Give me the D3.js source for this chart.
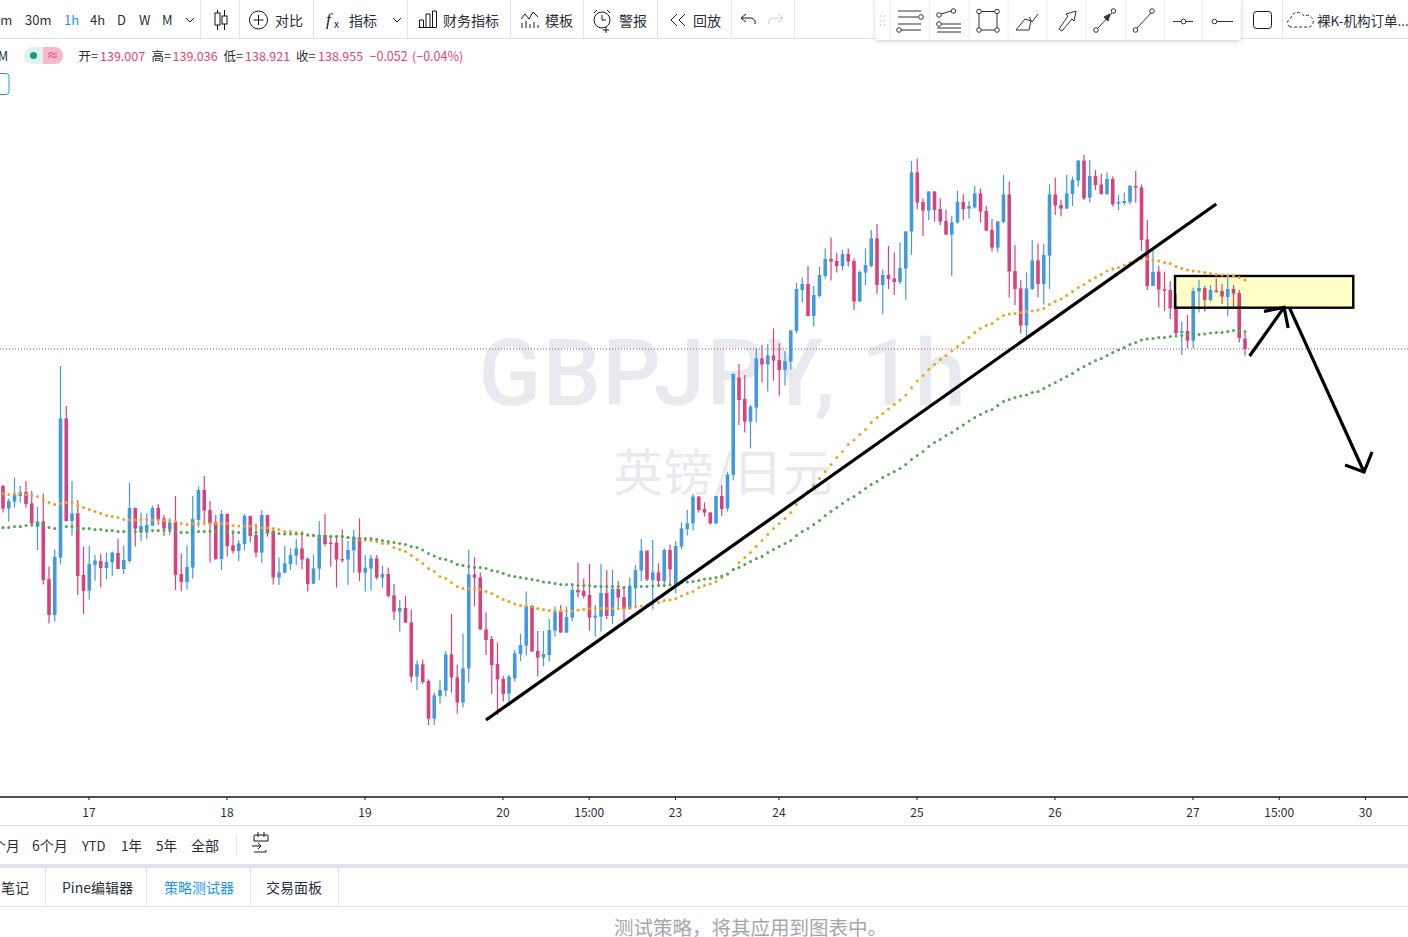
<!DOCTYPE html>
<html><head><meta charset="utf-8">
<script src="https://cdn.jsdelivr.net/npm/d3@7"></script>
<style>html,body{margin:0;padding:0;background:#fff;overflow:hidden}svg{display:block}text{font-family:"Noto Sans CJK SC","Noto Sans",sans-serif}</style>
</head><body><svg id="c" width="1408" height="937"></svg>
<script>
const opens=[138.270,138.157,138.192,138.220,138.240,138.183,138.067,138.093,137.805,137.625,
137.912,138.608,138.095,138.133,137.825,137.747,137.875,137.895,137.860,137.888,
137.935,137.855,137.895,138.160,138.040,138.042,138.072,138.160,138.108,138.053,
138.093,137.830,137.790,137.862,138.100,138.250,138.150,138.090,137.905,138.130,
137.973,137.945,137.980,138.120,138.025,137.937,138.125,138.045,137.812,137.837,
137.880,137.922,137.958,137.905,137.782,137.857,138.025,137.987,137.987,137.905,
137.902,137.948,138.013,137.837,137.857,137.908,137.812,137.830,137.723,137.642,
137.660,137.588,137.317,137.378,137.295,137.107,137.220,137.247,137.428,137.313,
137.187,137.358,137.828,137.813,137.553,137.505,137.380,137.305,137.233,137.308,
137.430,137.472,137.670,137.445,137.412,137.425,137.547,137.645,137.537,137.612,
137.750,137.745,137.725,137.612,137.617,137.735,137.620,137.755,137.715,137.655,
137.758,137.847,137.947,137.800,137.838,137.795,137.950,137.775,137.967,138.055,
138.083,138.217,138.155,138.138,138.083,138.220,138.158,138.325,138.812,138.705,
138.592,138.662,138.908,138.878,138.923,138.900,138.850,138.892,139.045,139.250,
139.280,139.120,139.220,139.320,139.405,139.395,139.370,139.430,139.395,139.192,
139.337,139.370,139.508,139.275,139.325,139.308,139.290,139.357,139.542,139.838,
139.690,139.647,139.743,139.655,139.595,139.527,139.587,139.690,139.657,139.663,
139.733,139.645,139.550,139.462,139.590,139.728,139.345,139.258,139.072,139.255,
139.398,139.280,139.422,139.728,139.675,139.657,139.730,139.797,139.897,139.712,
139.820,139.778,139.730,139.805,139.682,139.685,139.690,139.770,139.763,139.503,
139.270,139.342,139.255,139.250,139.170,139.037,139.045,138.997,139.243,139.260,
139.200,139.247,139.245,139.215,139.255,139.235,139.007];
const closes=[138.157,138.195,138.228,138.240,138.180,138.083,138.093,137.800,137.625,137.915,
138.608,138.095,138.133,137.820,137.745,137.880,137.897,137.860,137.890,137.937,
137.855,137.900,138.160,138.057,138.070,138.075,138.160,138.103,138.057,138.088,
137.825,137.790,137.865,138.105,138.250,138.147,138.083,137.905,138.130,137.970,
137.945,137.983,138.120,138.020,137.937,138.125,138.033,137.812,137.838,137.883,
137.925,137.958,137.902,137.780,137.858,138.025,137.980,137.980,137.902,137.898,
137.950,138.017,137.837,137.862,137.908,137.812,137.830,137.720,137.642,137.660,
137.587,137.317,137.378,137.290,137.107,137.223,137.250,137.428,137.312,137.187,
137.358,137.828,137.812,137.553,137.500,137.375,137.303,137.230,137.317,137.433,
137.475,137.670,137.442,137.412,137.430,137.550,137.642,137.537,137.615,137.750,
137.738,137.720,137.612,137.622,137.735,137.620,137.755,137.712,137.655,137.767,
137.850,137.947,137.803,137.838,137.795,137.950,137.853,137.970,138.058,138.083,
138.217,138.150,138.137,138.083,138.220,138.155,138.328,138.830,138.700,138.592,
138.667,138.908,138.878,138.923,138.897,138.850,138.895,139.048,139.255,139.280,
139.120,139.225,139.325,139.405,139.392,139.370,139.430,139.392,139.192,139.340,
139.375,139.508,139.275,139.325,139.305,139.290,139.360,139.543,139.838,139.687,
139.647,139.743,139.650,139.592,139.527,139.588,139.690,139.655,139.670,139.733,
139.642,139.547,139.462,139.593,139.728,139.342,139.255,139.072,139.258,139.398,
139.280,139.425,139.728,139.672,139.657,139.733,139.800,139.897,139.708,139.820,
139.775,139.730,139.805,139.678,139.690,139.695,139.770,139.762,139.500,139.270,
139.340,139.252,139.247,139.158,139.033,139.045,138.997,139.245,139.260,139.200,
139.250,139.240,139.217,139.255,139.232,139.010,138.955];
const highs=[138.275,138.208,138.312,138.270,138.295,138.245,138.167,138.233,137.867,137.953,
138.870,138.670,138.295,138.200,137.967,137.970,137.925,137.930,137.937,137.942,
138.008,137.972,138.287,138.163,138.138,138.133,138.172,138.180,138.125,138.108,
138.220,137.933,137.972,138.220,138.267,138.320,138.195,138.125,138.150,138.133,
138.050,138.000,138.130,138.122,138.083,138.150,138.125,138.063,137.913,137.970,
137.958,138.005,138.033,137.913,137.928,138.095,138.130,138.022,138.022,138.053,
137.995,138.050,138.108,137.925,137.925,137.925,137.870,137.863,137.780,137.700,
137.720,137.653,137.397,137.403,137.303,137.237,137.297,137.445,137.630,137.378,
137.533,137.950,137.913,137.837,137.637,137.520,137.487,137.320,137.325,137.450,
137.530,137.742,137.675,137.545,137.545,137.605,137.667,137.675,137.667,137.775,
137.887,137.808,137.880,137.675,137.880,137.850,137.850,137.795,137.767,137.813,
137.875,138.005,137.947,138.000,137.883,137.958,137.978,137.995,138.088,138.150,
138.230,138.220,138.188,138.138,138.220,138.275,138.342,138.833,138.880,138.825,
138.675,138.958,138.975,138.980,139.058,138.983,138.945,139.048,139.287,139.312,
139.370,139.270,139.367,139.458,139.513,139.438,139.450,139.458,139.408,139.347,
139.458,139.550,139.580,139.353,139.470,139.438,139.487,139.543,139.895,139.908,
139.708,139.743,139.743,139.708,139.653,139.620,139.747,139.730,139.695,139.770,
139.758,139.670,139.605,139.593,139.825,139.792,139.475,139.300,139.338,139.500,
139.483,139.480,139.778,139.813,139.700,139.825,139.817,139.900,139.925,139.900,
139.850,139.830,139.838,139.817,139.725,139.738,139.775,139.845,139.778,139.600,
139.458,139.370,139.342,139.295,139.230,139.092,139.125,139.263,139.300,139.270,
139.275,139.308,139.280,139.312,139.275,139.250,139.036];
const lows=[138.137,138.092,138.162,138.187,138.162,138.067,137.950,137.778,137.583,137.592,
137.878,138.092,138.022,137.725,137.630,137.703,137.797,137.762,137.805,137.820,
137.855,137.830,137.887,137.967,137.995,138.005,138.070,138.075,138.020,138.022,
137.750,137.742,137.753,137.808,138.063,138.083,137.887,137.900,137.850,137.917,
137.933,137.895,137.950,137.987,137.912,137.887,138.017,137.778,137.775,137.833,
137.850,137.875,137.853,137.742,137.780,137.800,137.970,137.867,137.762,137.887,
137.775,137.837,137.795,137.742,137.747,137.803,137.762,137.712,137.600,137.542,
137.587,137.287,137.250,137.280,137.075,137.075,137.183,137.217,137.237,137.133,
137.163,137.287,137.670,137.550,137.425,137.230,137.125,137.192,137.167,137.292,
137.395,137.422,137.442,137.317,137.370,137.392,137.517,137.537,137.537,137.592,
137.712,137.708,137.547,137.517,137.542,137.605,137.580,137.663,137.592,137.650,
137.658,137.795,137.795,137.653,137.775,137.772,137.770,137.733,137.953,138.022,
138.047,138.138,138.117,138.077,138.080,138.120,138.142,138.297,138.575,138.537,
138.458,138.587,138.787,138.742,138.797,138.722,138.772,138.853,139.032,139.187,
139.117,139.067,139.213,139.308,139.297,139.337,139.347,139.367,139.150,139.190,
139.275,139.363,139.230,139.130,139.255,139.225,139.280,139.200,139.425,139.655,
139.520,139.600,139.592,139.575,139.525,139.320,139.583,139.600,139.608,139.658,
139.587,139.545,139.442,139.437,139.583,139.212,139.175,139.033,139.008,139.250,
139.212,139.178,139.255,139.625,139.617,139.655,139.670,139.767,139.700,139.688,
139.750,139.728,139.725,139.667,139.650,139.675,139.678,139.688,139.445,139.250,
139.270,139.162,139.145,139.105,139.022,138.925,138.958,138.958,139.137,139.142,
139.192,139.237,139.180,139.120,139.163,138.987,138.921];
const fastMA=[138.233,138.228,138.230,138.232,138.228,138.222,138.218,138.203,138.188,138.178,
138.183,138.187,138.188,138.173,138.163,138.153,138.143,138.133,138.123,138.118,
138.113,138.103,138.100,138.100,138.103,138.103,138.100,138.100,138.097,138.097,
138.093,138.083,138.078,138.083,138.083,138.083,138.083,138.083,138.083,138.083,
138.072,138.070,138.070,138.070,138.067,138.063,138.060,138.057,138.053,138.043,
138.042,138.038,138.037,138.025,138.022,138.017,138.017,138.018,138.018,138.017,
138.012,138.005,138.002,138.000,137.998,137.992,137.983,137.982,137.963,137.953,
137.943,137.923,137.903,137.883,137.858,137.842,137.817,137.807,137.787,137.767,
137.758,137.758,137.758,137.753,137.743,137.733,137.718,137.703,137.692,137.680,
137.673,137.670,137.667,137.658,137.653,137.648,137.647,137.645,137.645,137.645,
137.650,137.653,137.657,137.657,137.658,137.658,137.658,137.658,137.658,137.660,
137.667,137.670,137.675,137.683,137.688,137.697,137.700,137.708,137.720,137.733,
137.742,137.762,137.772,137.780,137.792,137.813,137.830,137.853,137.888,137.913,
137.938,137.968,137.998,138.028,138.058,138.083,138.108,138.138,138.178,138.215,
138.243,138.273,138.308,138.343,138.378,138.413,138.443,138.478,138.500,138.528,
138.553,138.588,138.612,138.633,138.655,138.678,138.700,138.725,138.763,138.795,
138.823,138.853,138.878,138.903,138.922,138.945,138.967,138.988,139.013,139.038,
139.058,139.072,139.083,139.105,139.122,139.130,139.133,139.138,139.142,139.145,
139.150,139.158,139.178,139.192,139.205,139.222,139.242,139.262,139.278,139.297,
139.313,139.328,139.345,139.355,139.363,139.375,139.388,139.397,139.405,139.405,
139.400,139.395,139.388,139.383,139.367,139.358,139.350,139.345,139.342,139.338,
139.332,139.328,139.325,139.322,139.320,139.313,139.300];
const slowMA=[138.063,138.063,138.068,138.068,138.073,138.075,138.075,138.075,138.063,138.058,
138.067,138.068,138.068,138.058,138.058,138.058,138.053,138.053,138.048,138.048,
138.043,138.043,138.043,138.043,138.042,138.043,138.048,138.048,138.048,138.048,
138.043,138.038,138.038,138.043,138.043,138.043,138.043,138.043,138.043,138.043,
138.038,138.038,138.038,138.038,138.038,138.038,138.037,138.035,138.033,138.030,
138.030,138.030,138.030,138.025,138.022,138.020,138.017,138.017,138.017,138.017,
138.012,138.008,138.008,138.007,138.007,138.003,137.998,137.993,137.988,137.983,
137.978,137.968,137.963,137.950,137.933,137.920,137.908,137.903,137.892,137.878,
137.873,137.868,137.863,137.862,137.858,137.848,137.843,137.833,137.823,137.817,
137.813,137.808,137.803,137.797,137.790,137.788,137.783,137.778,137.777,137.777,
137.773,137.773,137.772,137.768,137.768,137.768,137.768,137.768,137.763,137.767,
137.767,137.767,137.768,137.770,137.772,137.773,137.775,137.780,137.787,137.790,
137.793,137.798,137.805,137.808,137.812,137.820,137.830,137.853,137.863,137.877,
137.893,137.908,137.917,137.938,137.953,137.968,137.983,137.998,138.023,138.043,
138.058,138.078,138.098,138.123,138.143,138.163,138.183,138.203,138.218,138.238,
138.258,138.278,138.293,138.313,138.328,138.343,138.358,138.378,138.403,138.423,
138.443,138.468,138.488,138.503,138.523,138.538,138.558,138.575,138.595,138.613,
138.628,138.643,138.653,138.673,138.693,138.703,138.713,138.720,138.725,138.738,
138.743,138.758,138.773,138.788,138.803,138.818,138.833,138.853,138.868,138.883,
138.898,138.908,138.922,138.938,138.950,138.963,138.978,138.988,139.000,139.005,
139.008,139.012,139.013,139.017,139.020,139.023,139.025,139.027,139.028,139.030,
139.035,139.037,139.038,139.042,139.048,139.045,139.042];
const tickBars=[15,39,63,87,102,117,135,159,183,207,222,237];
const tickLabels=["17","18","19","20","15:00","23","24","25","26","27","15:00","30"];
const lastPrice=138.955;
// user drawings, as [bar, price]
const trendLine=[[84,137.1],[211,139.68]];
const boxZone=[[203.83,139.32],[234.83,139.1615]];
const arrowUp=[[216.8,138.92],[222.8,139.163]];
const arrowUpHead=[[219.3,139.143],[222.8,139.163],[223.5,139.06]];
const arrowDown=[[223.7,139.163],[236.7,138.34]];
const arrowDownHead=[[233.4,138.375],[236.7,138.34],[238.1,138.44]];

const BLUE="#4299e1",PINK="#d9417b",ORANGE="#f0a020",GREEN="#4ea556",TXT="#2a2e39",SEP="#e0e3eb";
const svg=d3.select("#c");
const x=d3.scaleLinear().domain([0,237]).range([3,1365.75]);
const y=d3.scaleLinear().domain([140.7,136.715]).range([0,797]);

// watermark
svg.append("text").attr("x",723).attr("y",405).attr("text-anchor","middle").attr("font-size",92).attr("font-weight",500).attr("fill","#e9eaef").style("font-family","Roboto,sans-serif").attr("letter-spacing",1.5).text("GBPJPY, 1h");
svg.append("text").attr("x",723).attr("y",491).attr("text-anchor","middle").attr("font-size",50).attr("fill","#e9eaef").text("英镑/日元");

// box fill
const bx=x(boxZone[0][0]),bw=x(boxZone[1][0])-bx,by=y(boxZone[0][1]),bh=y(boxZone[1][1])-by;
svg.append("rect").attr("x",bx).attr("y",by).attr("width",bw).attr("height",bh).attr("fill","#ffffc8");

// price line
svg.append("line").attr("x1",0).attr("x2",1408).attr("y1",y(lastPrice)).attr("y2",y(lastPrice)).attr("stroke","#b8406c").attr("stroke-dasharray","1 2");

// candles
const bars=d3.range(opens.length);
const g=svg.append("g");
g.selectAll("line.w").data(bars).join("line").attr("class","w")
 .attr("x1",i=>x(i)).attr("x2",i=>x(i)).attr("y1",i=>y(highs[i])).attr("y2",i=>y(lows[i]))
 .attr("stroke",i=>closes[i]>=opens[i]?BLUE:PINK).attr("stroke-width",1.2);
g.selectAll("rect.b").data(bars).join("rect").attr("class","b")
 .attr("x",i=>x(i)-1.8).attr("width",3.6)
 .attr("y",i=>y(Math.max(opens[i],closes[i])))
 .attr("height",i=>Math.max(1.5,Math.abs(y(opens[i])-y(closes[i]))))
 .attr("fill",i=>closes[i]>=opens[i]?BLUE:PINK);

// box stroke
svg.append("rect").attr("x",bx).attr("y",by).attr("width",bw).attr("height",bh).attr("fill","none").attr("stroke","#000").attr("stroke-width",2.4);

// MA dots
[[fastMA,ORANGE],[slowMA,GREEN]].forEach(([s,c])=>{
 svg.append("g").selectAll("circle").data(s).join("circle")
  .attr("cx",(d,i)=>x(i)).attr("cy",d=>y(d)).attr("r",1.5).attr("fill",c);
});

// drawings
const ln=d3.line().x(d=>x(d[0])).y(d=>y(d[1]));
[[trendLine,3.2],[arrowUp,3.2],[arrowUpHead,3.2],[arrowDown,3.2],[arrowDownHead,3.2]].forEach(([p,w])=>{
 svg.append("path").attr("d",ln(p)).attr("fill","none").attr("stroke","#000").attr("stroke-width",w);
});

// time axis
svg.append("rect").attr("x",0).attr("y",798).attr("width",1408).attr("height",28).attr("fill","#fff");
const axis=d3.axisBottom(x).tickValues(tickBars).tickFormat((d,i)=>tickLabels[i]).tickSize(3).tickPadding(9);
const ax=svg.append("g").attr("transform","translate(-0.8,797)").call(axis);
ax.select(".domain").remove();
ax.selectAll("line").attr("stroke","#131722");
ax.selectAll("text").attr("font-size",12).attr("fill",TXT).style("font-family",'"Noto Sans CJK SC",sans-serif').attr("dy","0.7em");
svg.append("line").attr("x1",0).attr("x2",1408).attr("y1",797).attr("y2",797).attr("stroke","#131722").attr("stroke-width",1.3);

// ---- chrome ----
function hline(yy,c,w){svg.append("line").attr("x1",0).attr("x2",1408).attr("y1",yy).attr("y2",yy).attr("stroke",c).attr("stroke-width",w||1);}
function vline(xx,a,b,c){svg.append("line").attr("x1",xx).attr("x2",xx).attr("y1",a).attr("y2",b).attr("stroke",c||SEP);}
function txt(s,xx,yy,o){o=o||{};return svg.append("text").attr("x",xx).attr("y",yy).attr("font-size",o.size||14).attr("fill",o.fill||TXT).attr("dominant-baseline","central").attr("text-anchor",o.anchor||"start").text(s);}
function ic(d,o){o=o||{};return svg.append("path").attr("d",d).attr("fill",o.fill||"none").attr("stroke",o.stroke||"#131722").attr("stroke-width",o.w||1);}
function circ(cx,cy,r,o){o=o||{};return svg.append("circle").attr("cx",cx).attr("cy",cy).attr("r",r).attr("fill",o.fill||"#fff").attr("stroke",o.stroke||"#131722").attr("stroke-width",o.w||1);}

hline(38.5,SEP);
[200.5,239.5,313.5,407.5,510.5,583.5,657.5,731.5,794.5].forEach(v=>vline(v,0,38));
[["5m",-7,13],["30m",25,13],["4h",90,13],["D",117,13],["W",139,13],["M",162,13]].forEach(d=>txt(d[0],d[1],19.5,{size:d[2]}));
txt("1h",64,19.5,{fill:"#2196f3",size:13});
ic("M186 18l4 4 4-4",{});ic("M393 18l4 4 4-4",{});
ic("M217.5 10v20M224.5 10v20");svg.append("rect").attr("x",215).attr("y",13).attr("width",5).attr("height",12).attr("fill","#fff").attr("stroke","#131722");svg.append("rect").attr("x",222).attr("y",16).attr("width",5).attr("height",8).attr("fill","#fff").attr("stroke","#131722");
circ(258.5,20,9);ic("M258.5 15v10M253.5 20h10");
txt("对比",275,19.5);
svg.append("text").attr("x",326).attr("y",25).attr("font-size",17).attr("font-style","italic").attr("fill","#131722").style("font-family","'Liberation Serif',serif").text("f");
svg.append("text").attr("x",334).attr("y",28).attr("font-size",10).attr("fill","#131722").text("x");
txt("指标",349,19.5);
ic("M418.5 27.5h18M419.5 27v-7h4v7M426 27v-13h4v13M432.500 27V11h4v16");
txt("财务指标",443,19.5);
ic("M521 19l4-5 4 5 4-7 5 5M522 28v-5M526 28v-7M530 28v-4M534 28v-6M538 28v-3");
txt("模板",545,19.5);
circ(602,20,8);ic("M594 13l3-3M610 13l-3-3M602 15v5h4M606 27v6M603 30h6",{});
txt("警报",619,19.5);
ic("M677 14l-6 6 6 6M685 14l-6 6 6 6");
txt("回放",693,19.5);
ic("M746 14l-5 4 5 4M741 18h10a4.500 4.500 0 0 1 4 6");
ic("M778 14l5 4-5 4M783 18h-10a4.500 4.500 0 0 0-4 6",{stroke:"#c8cad0"});

// floating toolbar
const defs=svg.append("defs");
const f=defs.append("filter").attr("id","sh").attr("x","-5%").attr("y","-20%").attr("width","110%").attr("height","150%");
f.append("feDropShadow").attr("dx",0).attr("dy",1).attr("stdDeviation",2).attr("flood-color","#000").attr("flood-opacity",.22);
svg.append("rect").attr("x",875.5).attr("y",-3).attr("width",365.5).attr("height",43).attr("rx",3).attr("fill","#fff").attr("filter","url(#sh)");
[890,929,968.5,1007.5,1046.5,1085.5,1125,1164,1202].forEach(v=>vline(v+.5,0,40,"#eceef2"));
[880.5,884.5].forEach(a=>[16,20.500,25].forEach(b=>svg.append("circle").attr("cx",a).attr("cy",b).attr("r",1).attr("fill","#d5d7dd")));
const ICON="#333";
ic("M898 11h23M898 17h20M898 24h23M901 30h20",{stroke:ICON});circ(921,17,2.3,{stroke:ICON});circ(899,30,2.3,{stroke:ICON});
ic("M941 14l10-3M941 24h20M937 28h24M937 32h24",{stroke:ICON});circ(939,15,2.3,{stroke:ICON});circ(953.500,11,2.3,{stroke:ICON});circ(939,24,2.3,{stroke:ICON});
svg.append("rect").attr("x",979).attr("y",11.5).attr("width",18).attr("height",18.5).attr("fill","none").attr("stroke",ICON);
[[979,11.5],[997,11.5],[979,30],[997,30]].forEach(p=>circ(p[0],p[1],2.3,{stroke:ICON}));
ic("M1016 30h13l2-9-6-2zM1029 17l3 5 6-8",{stroke:ICON});
ic("M1059 29l3 2 10-12 2 2 2-10-10 3 2 2z",{stroke:ICON});
ic("M1098 28l14-15",{stroke:ICON});ic("M1110 14l-6 3 4 4z",{fill:ICON,stroke:ICON});circ(1096,30,2.3,{stroke:ICON});circ(1113.500,11,2.3,{stroke:ICON});
ic("M1137 28l14-15",{stroke:ICON});circ(1135.500,30,2.3,{stroke:ICON});circ(1152,11,2.3,{stroke:ICON});
ic("M1173 21.500h20",{stroke:ICON});circ(1183.500,21.500,2.3,{stroke:ICON});
ic("M1216 21.500h17",{stroke:ICON});circ(1214.500,21.500,2.3,{stroke:ICON});

vline(1282.5,0,38);
svg.append("rect").attr("x",1253.5).attr("y",11.5).attr("width",18).attr("height",17).attr("rx",3).attr("fill","none").attr("stroke","#131722");
ic("M1290 27a5 5 0 0 1 1-9a7 7 0 0 1 13-2a6 6 0 0 1 6 11z",{stroke:"#333"}).attr("stroke-dasharray","3 2");
txt("裸K-机构订单...",1317,19.5,{size:13.5});

// legend row
const PK="#e0457b";
txt("M",-2,55.5,{size:12.5});
svg.append("rect").attr("x",24).attr("y",47).attr("width",39).attr("height",17).attr("rx",8.5).attr("fill","#dff3ef");
svg.append("path").attr("d","M43 47h11.500a8.500 8.500 0 0 1 0 17H43z").attr("fill","#f9b6cd");
svg.append("circle").attr("cx",33.5).attr("cy",55.5).attr("r",3.5).attr("fill","#149a86");
txt("≈",52.5,54.5,{anchor:"middle",fill:PK,size:12});
[["开=",78.5,TXT],["139.007",100,PK],["高=",151.5,TXT],["139.036",172.5,PK],["低=",223.5,TXT],["138.921",245,PK],["收=",296,TXT],["138.955",318,PK],["−0.052",369.500,PK],["(−0.04%)",412,PK]].forEach(d=>txt(d[0],d[1],55.5,{fill:d[2],size:12.5}));
svg.append("rect").attr("x",-5).attr("y",73.5).attr("width",14).attr("height",21).attr("rx",3).attr("fill","#fff").attr("stroke","#2196f3");

// range row
hline(825.5,SEP);
[["1个月",-16,14],["6个月",32,14],["YTD",82,13],["1年",121,13.5],["5年",156,13.5],["全部",191,14]].forEach(d=>txt(d[0],d[1],845,{size:d[2]}));
vline(236.5,835,856);
ic("M254 841h14v-5a1 1 0 0 0-1-1h-12a1 1 0 0 0-1 1v5M266 850v2h-12M258 832v5M264 832v5M252 846h9l-3-3M261 846l-3 3",{});

// tabs
svg.append("rect").attr("x",0).attr("y",864).attr("width",1408).attr("height",4).attr("fill","#e0e3eb");
hline(906.5,SEP);
[45.5,146.5,250.5,338.5].forEach(v=>vline(v,868,906));
txt("笔记",1,887);txt("Pine编辑器",62,887);
txt("策略测试器",164,887,{fill:"#2196f3"});
txt("交易面板",266,887);
txt("测试策略，将其应用到图表中。",614,926.5,{size:19.5,fill:"#a3a6af"});
</script></body></html>
